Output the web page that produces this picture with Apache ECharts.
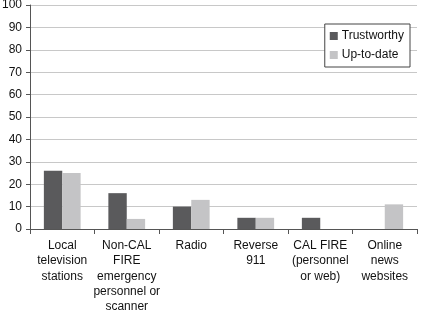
<!DOCTYPE html>
<html><head><meta charset="utf-8">
<script src="https://cdn.jsdelivr.net/npm/echarts@6/dist/echarts.min.js"></script>
<style>html,body{margin:0;padding:0;background:#fff}#c{width:421px;height:311px}</style>
</head><body><div id="c"></div>
<script>
const categories = ["Local\ntelevision\nstations","Non-CAL\nFIRE\nemergency\npersonnel or\nscanner","Radio","Reverse\n911","CAL FIRE\n(personnel\nor web)","Online\nnews\nwebsites"];
const trustworthy = [26, 16, 10, 5, 5, 0];
const upToDate = [25, 4.5, 13, 5, 0, 11];
const yTicks = {min: 0, max: 100, interval: 10};

const chart = echarts.init(document.getElementById('c'), null, {renderer: 'canvas'});
chart.setOption({
  animation: false,
  textStyle: {fontFamily: 'Liberation Sans, Arial, sans-serif'},
  grid: {left: 30, right: 4, top: 5, bottom: 82, containLabel: false, outerBoundsMode: 'none'},
  legend: {
    right: 11, top: 24, orient: 'vertical',
    data: ['Trustworthy', 'Up-to-date'],
    backgroundColor: '#fff', borderColor: '#444', borderWidth: 1,
    padding: [6, 6, 6, 5], itemGap: 7, itemWidth: 8, itemHeight: 8,
    icon: 'rect',
    textStyle: {fontSize: 12, color: '#111', padding: [0, 0, 0, -1]}
  },
  xAxis: {
    type: 'category', data: categories,
    axisLine: {lineStyle: {color: '#555', width: 1}},
    axisTick: {show: true, alignWithLabel: false, length: 5, lineStyle: {color: '#555'}},
    axisLabel: {interval: 0, fontSize: 12, color: '#111', lineHeight: 15.3, margin: 9}
  },
  yAxis: {
    type: 'value', min: yTicks.min, max: yTicks.max, interval: yTicks.interval,
    axisLine: {show: true, lineStyle: {color: '#555', width: 1}},
    axisTick: {show: true, length: 4, lineStyle: {color: '#555'}},
    splitLine: {lineStyle: {color: '#c8c8c8', width: 1}},
    axisLabel: {fontSize: 12, color: '#111', margin: 8}
  },
  series: [
    {name: 'Trustworthy', type: 'bar', data: trustworthy, barWidth: '28.5%', barGap: '0%',
     itemStyle: {color: '#5a5a5c'}},
    {name: 'Up-to-date', type: 'bar', data: upToDate, barWidth: '28.5%', barGap: '0%',
     itemStyle: {color: '#c4c4c6'}}
  ]
});
</script></body></html>
